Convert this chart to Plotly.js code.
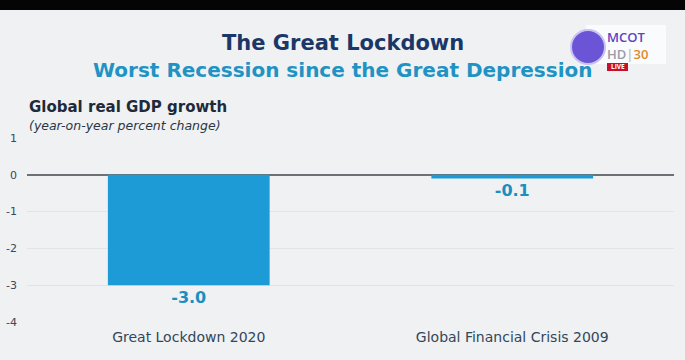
<!DOCTYPE html>
<html>
<head>
<meta charset="utf-8">
<script src="https://cdn.plot.ly/plotly-3.0.1.min.js"></script>
<style>
html,body{margin:0;padding:0;background:#eff1f3;}
#chart{width:685px;height:360px;}
</style>
</head>
<body>
<div id="chart"></div>
<script>
const categories = ["Great Lockdown 2020", "Global Financial Crisis 2009"];
const growth = [-3.0, -0.1];
const yTicks = [-4, -3, -2, -1, 0, 1];
const titleMain = "The Great Lockdown";
const titleSub = "Worst Recession since the Great Depression";
const axisTitle = "Global real GDP growth";
const axisSubtitle = "(year-on-year percent change)";
const logoChannel = ["MCOT", "HD", "30", "LIVE"];

const barColor = "#1c9bd6";
const labelColor = "#1a8fc2";
const F = "'DejaVu Sans', 'Open Sans', sans-serif";
const LF = "'Open Sans', sans-serif";

// pixel -> paper helpers (plot area: x 27..674, y 138..322)
const PX = p => (p - 27) / 647;
const PY = p => (322 - p) / 184;

const trace = {
  type: "bar",
  x: categories,
  y: growth,
  marker: {color: barColor},
  text: growth.map(v => v.toFixed(1)),
  textposition: "outside",
  textfont: {family: F, size: 16, color: labelColor, weight: 700},
  cliponaxis: false,
  hoverinfo: "skip"
};

const layout = {
  width: 685,
  height: 360,
  paper_bgcolor: "#eff1f3",
  plot_bgcolor: "#eff1f3",
  margin: {l: 27, r: 11, t: 138, b: 38},
  bargap: 0.5,
  showlegend: false,
  font: {family: F},
  xaxis: {
    type: "category",
    showgrid: false,
    zeroline: false,
    showline: false,
    ticks: "",
    ticklabelstandoff: 5,
    tickfont: {size: 14, color: "#34465a"},
    fixedrange: true
  },
  yaxis: {
    range: [-4, 1],
    tickvals: yTicks,
    ticktext: yTicks.map(String),
    showgrid: true,
    gridcolor: "#e2e5e8",
    gridwidth: 1,
    zeroline: true,
    zerolinecolor: "#6d7176",
    zerolinewidth: 1.5,
    showline: false,
    ticks: "",
    ticklabelstandoff: 9,
    tickfont: {size: 11, color: "#3c4858"},
    fixedrange: true
  },
  shapes: [
    {type: "rect", xref: "paper", yref: "paper", x0: -0.1, x1: 1.1, y0: PY(10), y1: PY(-5),
     fillcolor: "#050505", line: {width: 0}, layer: "above"},
    // channel logo backdrop
    {type: "rect", xref: "paper", yref: "paper", x0: PX(586), x1: PX(666), y0: PY(64), y1: PY(25),
     fillcolor: "rgba(255,255,255,0.7)", line: {width: 0}, layer: "above"},
    {type: "circle", xref: "paper", yref: "paper", x0: PX(571), x1: PX(605), y0: PY(64), y1: PY(30),
     fillcolor: "#6b55d6", line: {color: "#c9c2f2", width: 2}, layer: "above"},
    {type: "rect", xref: "paper", yref: "paper", x0: PX(607), x1: PX(628), y0: PY(71), y1: PY(63),
     fillcolor: "#c8102e", line: {width: 0}, layer: "above"}
  ],
  annotations: [
    {text: titleMain, xref: "paper", yref: "paper", x: 0.488, y: PY(43),
     xanchor: "center", yanchor: "middle", showarrow: false,
     font: {size: 21, color: "#1b3768", weight: 700}},
    {text: titleSub, xref: "paper", yref: "paper", x: 0.488, y: PY(70),
     xanchor: "center", yanchor: "middle", showarrow: false,
     font: {size: 20, color: "#1f93c4", weight: 700}},
    {text: axisTitle, xref: "paper", yref: "paper", x: 0, y: PY(107),
     xanchor: "left", yanchor: "middle", showarrow: false,
     font: {size: 15, color: "#1e2a3a", weight: 700}},
    {text: "<i>" + axisSubtitle + "</i>", xref: "paper", yref: "paper", x: 0, y: PY(126),
     xanchor: "left", yanchor: "middle", showarrow: false,
     font: {size: 12.5, color: "#2c3644"}},
    // channel logo text
    {text: logoChannel[0] + "<br><span style='color:#9c9cab'>" + logoChannel[1] + "</span><span style='color:#bbbbbb'>|</span><span style='color:#e0892a'>" + logoChannel[2] + "</span>",
     xref: "paper", yref: "paper", x: PX(606), y: PY(27),
     xanchor: "left", yanchor: "top", align: "left", showarrow: false, borderpad: 0,
     font: {family: LF, size: 13, color: "#5b45c0", weight: 600}},
    {text: logoChannel[3], xref: "paper", yref: "paper", x: PX(617.5), y: PY(67),
     xanchor: "center", yanchor: "middle", showarrow: false, borderpad: 0,
     font: {family: LF, size: 6.5, color: "#ffffff", weight: 700}}
  ]
};

Plotly.newPlot("chart", [trace], layout, {displayModeBar: false, staticPlot: true});
</script>
</body>
</html>
